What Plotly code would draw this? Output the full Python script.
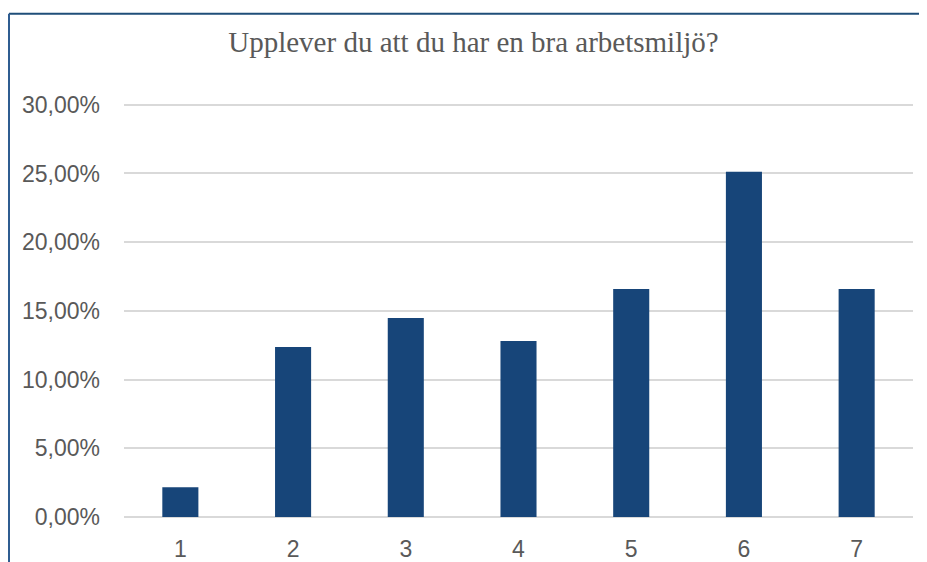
import plotly.graph_objects as go

categories = ["1", "2", "3", "4", "5", "6", "7"]
values = [2.17, 12.37, 14.49, 12.81, 16.60, 25.13, 16.60]
y_ticks = [0, 5, 10, 15, 20, 25, 30]
y_tick_labels = [f"{v:.2f}".replace(".", ",") + "%" for v in y_ticks]
title_text = "Upplever du att du har en bra arbetsmiljö?"

# page has an 8px body margin; figure is sized/offset to compensate
W, H = 919, 554
plot_l, plot_r = 116, 905
y0_px, y30_px = 508.7, 97.0
px_per_unit = (y0_px - y30_px) / 30
ymax = 30.2
top_px = y0_px - ymax * px_per_unit

fig = go.Figure(go.Bar(x=categories, y=values, marker=dict(color="#174579", line=dict(width=0)),
                       width=0.32, hoverinfo="skip"))

def px_to_paper_x(px):
    return (px - plot_l) / (plot_r - plot_l)

def px_to_paper_y(py):
    return (y0_px - py) / (y0_px - top_px)

fig.update_layout(
    width=W, height=H,
    margin=dict(l=plot_l, r=W - plot_r, t=top_px, b=H - y0_px, autoexpand=False),
    paper_bgcolor="white", plot_bgcolor="white",
    showlegend=False,
    title=dict(text=title_text, x=0.5065, xanchor="center", y=1 - 34 / H, yanchor="middle",
               font=dict(family="Liberation Serif, serif", size=29, color="#595959")),
    xaxis=dict(type="category", showgrid=False, showline=False, ticks="",
               tickfont=dict(family="Liberation Sans, Arial", size=23, color="#595959"),
               ticklabelstandoff=16),
    yaxis=dict(range=[0, ymax], tickvals=y_ticks, ticktext=y_tick_labels,
               showgrid=True, gridcolor="#d9d9d9", gridwidth=2,
               zeroline=True, zerolinecolor="#d9d9d9", zerolinewidth=2, showline=False,
               tickfont=dict(family="Liberation Sans, Arial", size=23, color="#595959"),
               ticklabelstandoff=23),
    shapes=[
        dict(type="line", xref="paper", yref="paper", x0=px_to_paper_x(1), x1=px_to_paper_x(940),
             y0=px_to_paper_y(6), y1=px_to_paper_y(6), line=dict(color="#1f4e79", width=2)),
        dict(type="line", xref="paper", yref="paper", x0=px_to_paper_x(1), x1=px_to_paper_x(1),
             y0=px_to_paper_y(6), y1=px_to_paper_y(580), line=dict(color="#2f5d91", width=2)),
    ],
)

fig.write_html("out.html")
